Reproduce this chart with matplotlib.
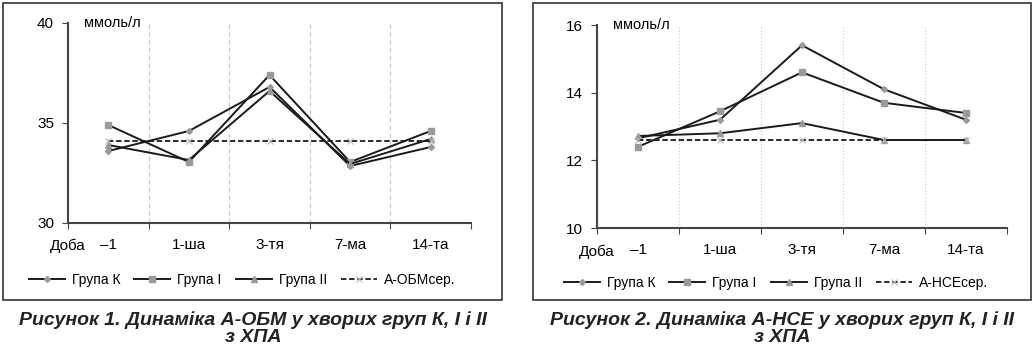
import numpy as np
import matplotlib.pyplot as plt
from matplotlib.patches import Rectangle

days = ["\u20131", "1-ша", "3-тя", "7-ма", "14-та"]
labels_left = ["Група К", "Група І", "Група ІІ", "А-ОБМсер."]
labels_right = ["Група К", "Група І", "Група ІІ", "А-НСЕсер."]

# А-ОБМ, ммоль/л
obm_k = [33.6, 34.6, 36.8, 32.85, 33.8]
obm_i = [34.9, 33.05, 37.4, 33.05, 34.6]
obm_ii = [33.9, 33.15, 36.6, 32.95, 34.2]
obm_mean = [34.1, 34.1, 34.1, 34.1, 34.1]

# А-НСЕ, ммоль/л
nse_k = [12.65, 13.2, 15.4, 14.1, 13.2]
nse_i = [12.4, 13.45, 14.6, 13.7, 13.4]
nse_ii = [12.72, 12.8, 13.1, 12.6, 12.6]
nse_mean = [12.6, 12.6, 12.6, 12.6, 12.6]

plt.rcParams["font.family"] = ["Liberation Sans", "DejaVu Sans"]

fig = plt.figure(figsize=(10.35, 3.48), dpi=100)

# frames round each figure
for x0, w in [(0.003, 0.482), (0.515, 0.481)]:
    fig.patches.append(Rectangle((x0, 1 - 300 / 348), w, 297 / 348, transform=fig.transFigure,
                                 fill=False, edgecolor="#333333", linewidth=1.2))


def draw_panel(rect, series, labels, ylim, yticks, gridstyle, leg_xy):
    ax = fig.add_axes(rect)
    x = np.arange(len(days))
    mk = ["D", "s", "^"]
    ms = [3, 4.5, 4]
    for s, m, size, lab in zip(series[:3], mk, ms, labels[:3]):
        ax.plot(x, s, color="#1a1a1a", lw=1.4, marker=m, markersize=size,
                markerfacecolor="#9a9a9a", markeredgecolor="#9a9a9a", label=lab)
    ax.plot(x, series[3], color="#1a1a1a", lw=1.3, ls=(0, (3, 1.5)), marker="x",
            markersize=4, markeredgecolor="#bbbbbb", markeredgewidth=0.8, label=labels[3])
    ax.set_xlim(-0.5, len(days) - 0.5)
    ax.set_ylim(*ylim)
    ax.set_yticks(yticks)
    ax.set_yticklabels([str(v) for v in yticks], fontsize=11)
    bounds = np.arange(len(days)) + 0.5
    ax.set_xticks(np.concatenate([[-0.5], bounds]))
    ax.set_xticklabels([])
    ax.set_xticks(x, minor=True)
    ax.set_xticklabels(days, minor=True, fontsize=11)
    ax.tick_params(axis="x", which="minor", length=0, pad=11)
    ax.tick_params(axis="x", which="major", length=4, direction="out", color="#444444")
    ax.tick_params(axis="y", length=4, color="#444444", pad=6)
    for b in bounds:
        ax.axvline(b, color="#c8c8c8", lw=0.8, ls=gridstyle, zorder=0)
    for sp in ["top", "right"]:
        ax.spines[sp].set_visible(False)
    for sp in ["left", "bottom"]:
        ax.spines[sp].set_color("#444444")
        ax.spines[sp].set_linewidth(1.5)
    ax.text(0.04, 1.0, "ммоль/л", transform=ax.transAxes, fontsize=10.5, va="center", ha="left")
    ax.text(0.0, -0.115, "Доба", transform=ax.transAxes, fontsize=11, va="center", ha="center")
    fig.legend(*ax.get_legend_handles_labels(), loc="center", bbox_to_anchor=leg_xy, ncol=4,
               frameon=False, fontsize=10, handlelength=2.6, handletextpad=0.5,
               columnspacing=1.0)
    return ax


draw_panel([68 / 1035, 1 - 223 / 348, 403 / 1035, 200 / 348],
           [obm_k, obm_i, obm_ii, obm_mean], labels_left, (30, 40), [30, 35, 40], (0, (4, 3)),
           (242 / 1035, 1 - 280 / 348))
draw_panel([597 / 1035, 1 - 228 / 348, 410 / 1035, 203 / 348],
           [nse_k, nse_i, nse_ii, nse_mean], labels_right, (10, 16), [10, 12, 14, 16], (0, (1, 2)),
           (776 / 1035, 1 - 283 / 348))

cap = dict(fontsize=14, fontweight="bold", fontstyle="italic", color="#222222",
           ha="center", va="center")
fig.text(253 / 1035, 1 - 320 / 348, "Рисунок 1. Динаміка А-ОБМ у хворих груп К, І і ІІ", **cap)
fig.text(253 / 1035, 1 - 338 / 348, "з ХПА", **cap)
fig.text(782 / 1035, 1 - 320 / 348, "Рисунок 2. Динаміка А-НСЕ у хворих груп К, І і ІІ", **cap)
fig.text(782 / 1035, 1 - 338 / 348, "з ХПА", **cap)

fig.savefig("out.png", dpi=100)
